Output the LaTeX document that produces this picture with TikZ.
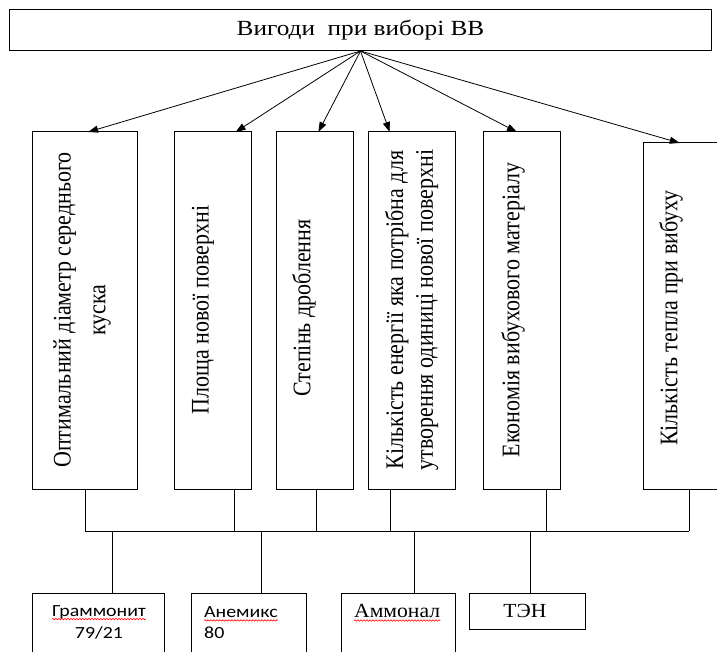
\documentclass[tikz,border=0pt]{standalone}
\usepackage{fontspec}
\setmainfont{Liberation Serif}
\newfontfamily\calfont{Carlito}
\usetikzlibrary{arrows.meta,calc,decorations.pathmorphing}
\newcommand{\vstretch}[1]{\scalebox{1}[1.15]{#1}}
\newcommand{\hstretch}[2]{\scalebox{#1}[1]{#2}}
\begin{document}
\begin{tikzpicture}[x=1bp,y=-1bp,
  box/.style={draw=black,line width=1bp,inner sep=0pt,outer sep=0pt},
  vtxt/.style={rotate=90,inner sep=0pt,align=center,font=\fontsize{22bp}{30.4bp}\selectfont},
  vtxtb/.style={rotate=90,inner sep=0pt,align=center,font=\fontsize{22bp}{26bp}\selectfont},
  arr/.style={line width=0.8bp,-{Triangle[length=10bp,width=7bp]}},
  con/.style={line width=0.9bp},
  stxt/.style={inner sep=0pt,font=\calfont\fontsize{17bp}{21bp}\selectfont},
  rtxt/.style={inner sep=0pt,font=\fontsize{20bp}{24bp}\selectfont},
  squig/.style={draw=red,line width=0.6bp,decorate,decoration={snake,amplitude=0.7bp,segment length=3bp}}
]
\useasboundingbox (0,0) rectangle (717,652);

% top box
\node[box,minimum width=701bp,minimum height=41bp,font=\fontsize{21.6bp}{25bp}\selectfont] (t) at (360.5,30.5) {\hstretch{1.17}{Вигоди\ \ при виборі ВВ}};

% factor boxes
\node[box,minimum width=104bp,minimum height=357bp] (b1) at (85,310.5) {};
\node[box,minimum width=77bp,minimum height=357bp] (b2) at (212.5,310.5) {};
\node[box,minimum width=77bp,minimum height=357bp] (b3) at (314.5,310.5) {};
\node[box,minimum width=87bp,minimum height=357bp] (b4) at (411.5,310.5) {};
\node[box,minimum width=77bp,minimum height=357bp] (b5) at (521.5,310.5) {};
\node[box,minimum width=78bp,minimum height=346bp] (b6) at (682,316) {};

\node[vtxt] (t1) at (81,310) {\vstretch{\begin{tabular}{@{}c@{}}Оптимальний діаметр середнього\\куска\end{tabular}}};
\node[vtxt] (t2) at (203,310) {\vstretch{Площа нової поверхні}};
\node[vtxt] (t3) at (304,308) {\vstretch{Степінь дроблення}};
\node[vtxtb] (t4) at (412,310) {\vstretch{\begin{tabular}{@{}c@{}}Кількість енергії яка потрібна для\\утворення одиниці нової поверхні\end{tabular}}};
\node[vtxt] (t5) at (513,310) {\vstretch{Економія вибухового матеріалу}};
\node[vtxt] (t6) at (671,318) {\vstretch{Кількість тепла при вибуху}};

% arrows
\draw[arr] (t.south) -- ($(b1.north west)!0.53!(b1.north east)$);
\draw[arr] (t.south) -- ($(b2.north west)!0.80!(b2.north east)$);
\draw[arr] (t.south) -- ($(b3.north west)!0.55!(b3.north east)$);
\draw[arr] (t.south) -- ($(b4.north west)!0.25!(b4.north east)$);
\draw[arr] (t.south) -- ($(b5.north west)!0.44!(b5.north east)$);
\draw[arr] (t.south) -- ($(b6.north west)!0.47!(b6.north east)$);

% bus
\coordinate (bus) at (0,531);
\coordinate (s1) at ($(b1.south west)!0.50!(b1.south east)$);
\coordinate (s2) at ($(b2.south west)!0.78!(b2.south east)$);
\coordinate (s3) at ($(b3.south west)!0.53!(b3.south east)$);
\coordinate (s4) at ($(b4.south west)!0.26!(b4.south east)$);
\coordinate (s5) at ($(b5.south west)!0.82!(b5.south east)$);
\coordinate (s6) at ($(b6.south west)!0.59!(b6.south east)$);
\draw[con] (s1) -- (s1 |- bus);
\draw[con] (s2) -- (s2 |- bus);
\draw[con] (s3) -- (s3 |- bus);
\draw[con] (s4) -- (s4 |- bus);
\draw[con] (s5) -- (s5 |- bus);
\draw[con] (s6) -- (s6 |- bus);
\draw[con] (s1 |- bus) -- (s6 |- bus);

% explosive boxes
\node[box,minimum width=131bp,minimum height=77bp] (ea) at (98.5,631.5) {};
\node[box,minimum width=115bp,minimum height=77bp] (eb) at (248.5,631.5) {};
\node[box,minimum width=114bp,minimum height=77bp] (ec) at (398,631.5) {};
\node[box,minimum width=116bp,minimum height=36bp] (ed) at (527,611) {};

\coordinate (pa) at ($(ea.north west)!0.61!(ea.north east)$);
\coordinate (pb) at ($(eb.north west)!0.61!(eb.north east)$);
\coordinate (pc) at ($(ec.north west)!0.64!(ec.north east)$);
\coordinate (pd) at ($(ed.north west)!0.53!(ed.north east)$);
\draw[con] (pa |- bus) -- (pa);
\draw[con] (pb |- bus) -- (pb);
\draw[con] (pc |- bus) -- (pc);
\draw[con] (pd |- bus) -- (pd);

\node[stxt] (ga1) at (99,612) {\hstretch{1.17}{Граммонит}};
\node[stxt] (ga2) at (99,633) {\hstretch{1.17}{79/21}};
\node[stxt,anchor=west] (gb1) at (204,612) {\hstretch{1.17}{Анемикс}};
\node[stxt,anchor=west] (gb2) at (204,633) {\hstretch{1.17}{80}};
\node[rtxt,anchor=west] (gc1) at (354,611) {\hstretch{1.08}{Аммонал}};
\node[rtxt] (gd1) at (525,611) {\hstretch{1.08}{ТЭН}};

\draw[squig] ($(ga1.base west)+(0,3)$) -- ($(ga1.base east)+(0,3)$);
\draw[squig] ($(gb1.base west)+(0,3)$) -- ($(gb1.base east)+(0,3)$);
\draw[squig] ($(gc1.base west)+(0,3)$) -- ($(gc1.base east)+(0,3)$);
\end{tikzpicture}
\end{document}
